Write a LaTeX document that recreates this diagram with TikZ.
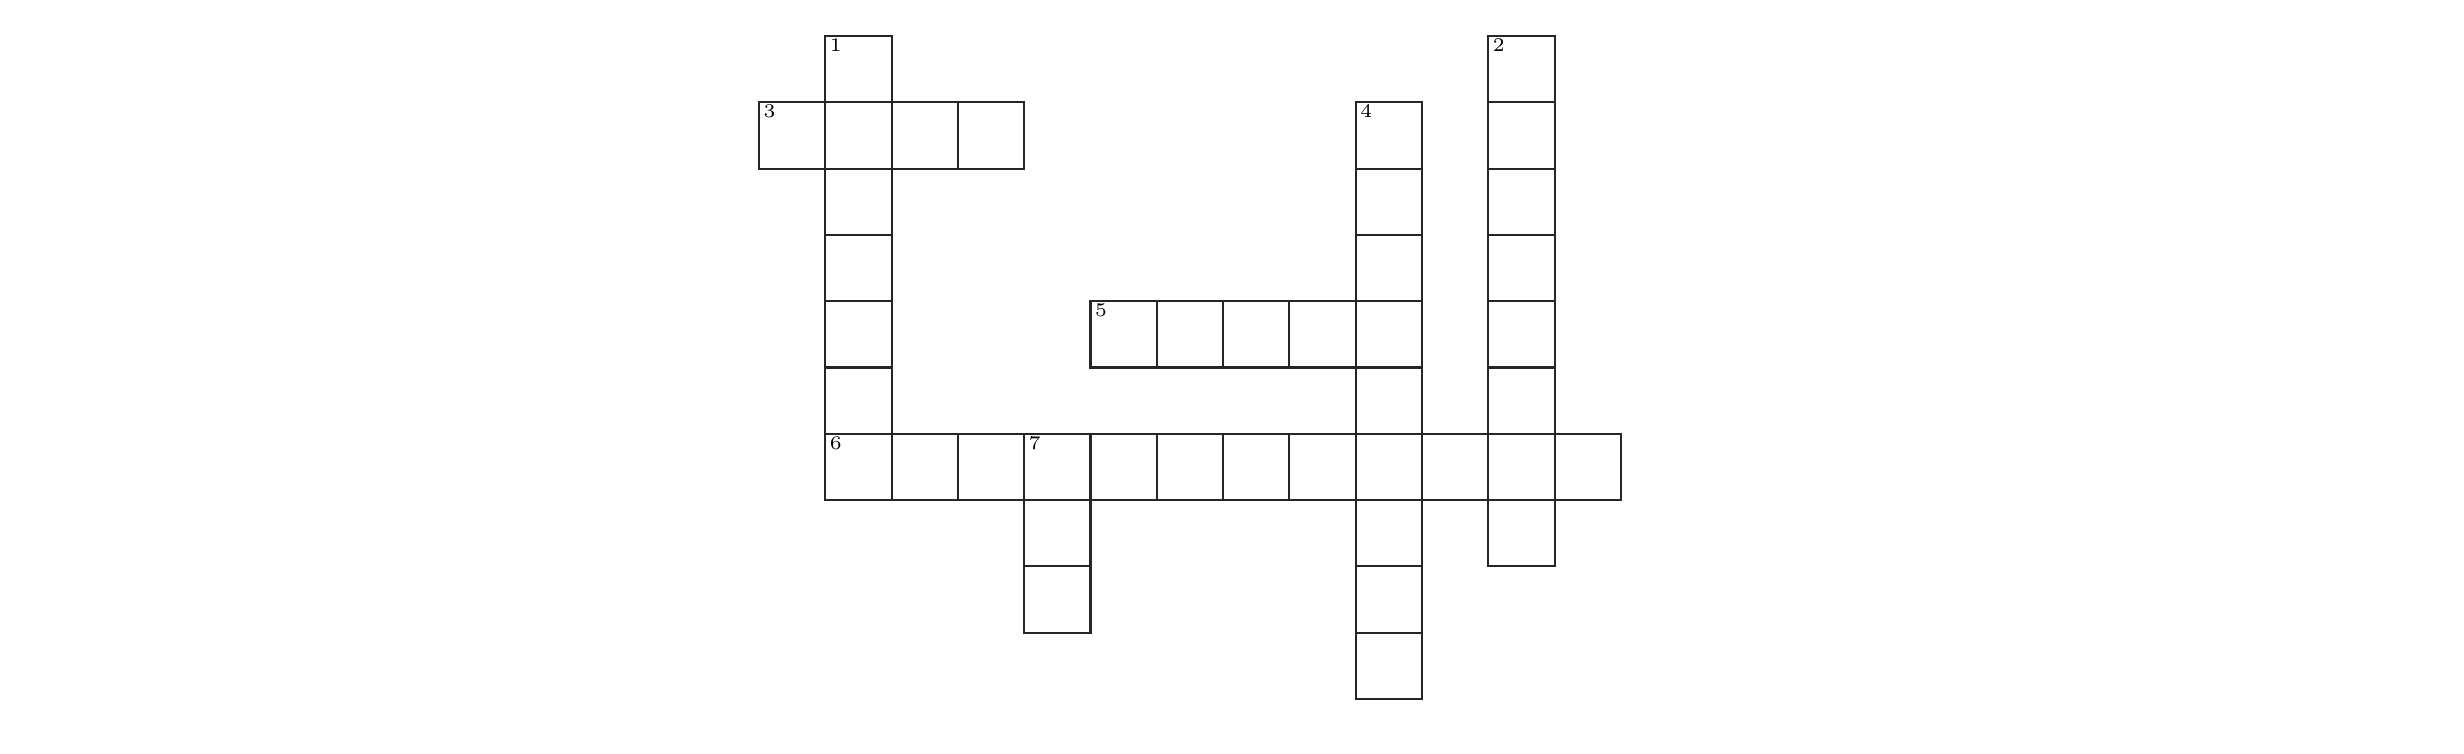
\documentclass[tikz,border=0pt]{standalone}
\usepackage{tikz}
\begin{document}
\begin{tikzpicture}

\tikzset{cell/.style = {shape=rectangle,draw=black!85,line width=0.6pt,minimum size=0.663cm,inner sep=0pt}}
\tikzset{num/.style = {anchor=north west,inner sep=0pt,xshift=0.05cm,yshift=-0.03cm,font=\fontsize{5.5}{6}\selectfont}}
\useasboundingbox (0,0) rectangle (24.64,-7.54);

\begin{scope}[shift={(7.59,-0.36)},x=0.663cm,y=-0.663cm]
% cells
\foreach \r in {0,...,6} \node[cell] (d1-\r) at (1.5,\r+0.5) {};
\foreach \r in {0,...,7} \node[cell] (d2-\r) at (11.5,\r+0.5) {};
\foreach \c in {0,...,3} \node[cell] (a3-\c) at (\c+0.5,1.5) {};
\foreach \r in {0,...,8} \node[cell] (d4-\r) at (9.5,\r+1.5) {};
\foreach \c in {0,...,4} \node[cell] (a5-\c) at (\c+5.5,4.5) {};
\foreach \c in {0,...,11} \node[cell] (a6-\c) at (\c+1.5,6.5) {};
\foreach \r in {0,...,2} \node[cell] (d7-\r) at (4.5,\r+6.5) {};

% numbers
\node[num] (n1) at (d1-0.north west) {1};
\node[num] (n2) at (d2-0.north west) {2};
\node[num] (n3) at (a3-0.north west) {3};
\node[num] (n4) at (d4-0.north west) {4};
\node[num] (n5) at (a5-0.north west) {5};
\node[num] (n6) at (a6-0.north west) {6};
\node[num] (n7) at (d7-0.north west) {7};
\end{scope}

\end{tikzpicture}
\end{document}
